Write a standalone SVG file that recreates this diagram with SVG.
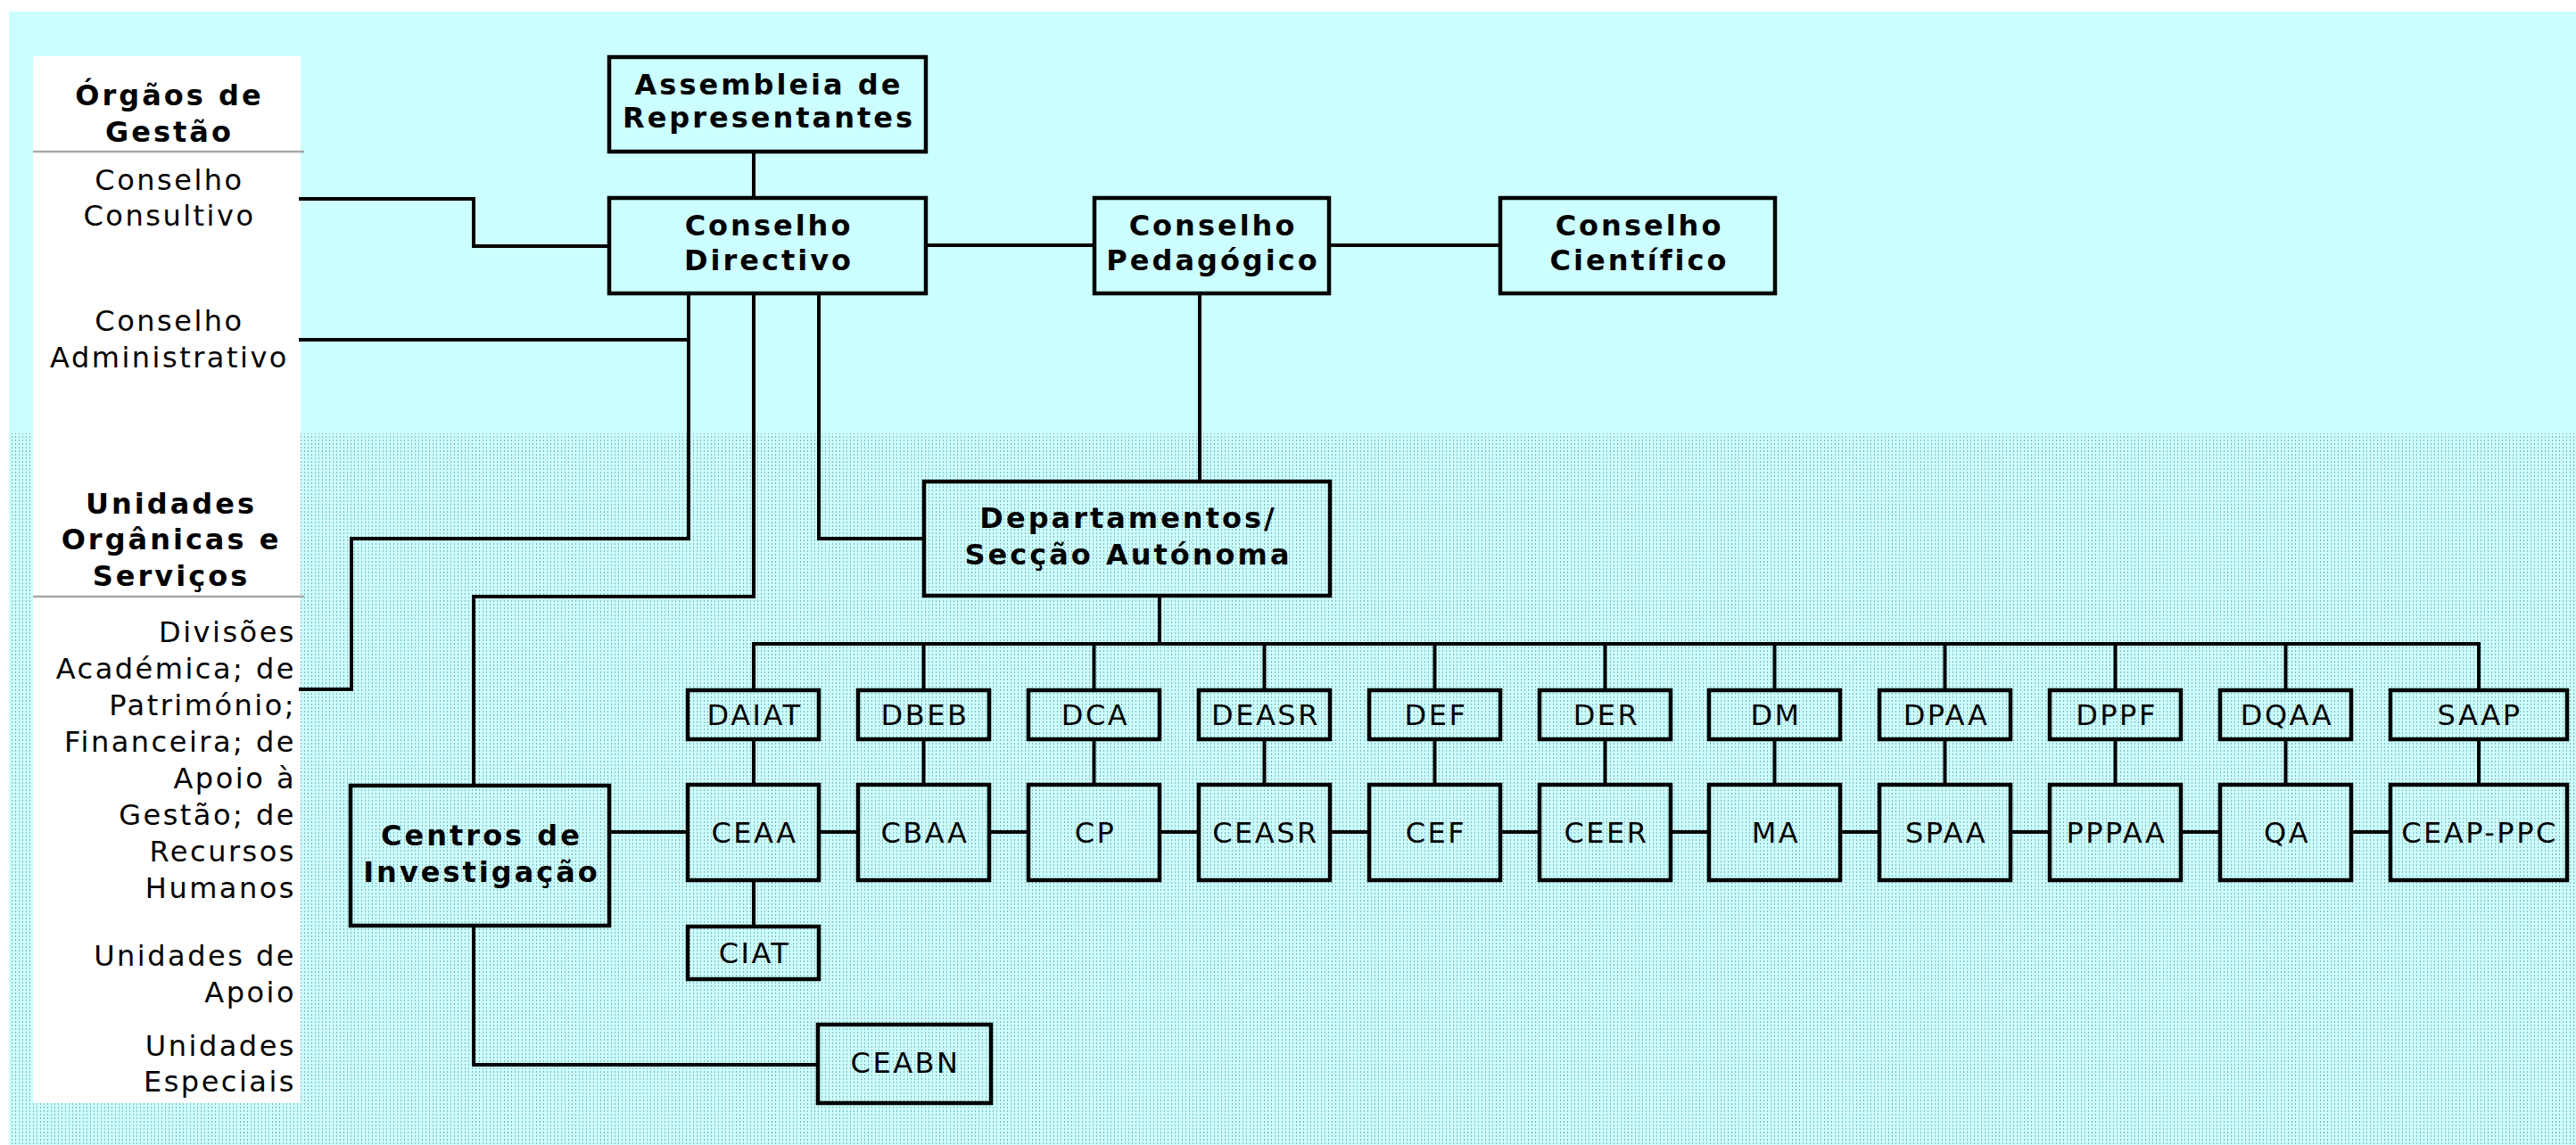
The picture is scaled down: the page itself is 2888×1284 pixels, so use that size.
<svg xmlns="http://www.w3.org/2000/svg" width="2888" height="1284" viewBox="0 0 2888 1284">
<defs>
<pattern id="dots" x="0" y="0" width="4" height="4" patternUnits="userSpaceOnUse">
<rect width="4" height="4" fill="#CCFFFF"/>
<rect x="1" y="1" width="1" height="2" fill="#7FB6B6"/>
</pattern>
<style>
.b{fill:none;stroke:#000;stroke-width:4.5}
.c{fill:none;stroke:#000;stroke-width:4;stroke-linejoin:miter;stroke-linecap:square}
.t{font-family:"DejaVu Sans",Verdana,sans-serif;font-size:32px;letter-spacing:2.5px;text-anchor:middle;fill:#000}
.tb{font-weight:bold;letter-spacing:3px}
.r{text-anchor:end}
.sep{stroke:#A8A8A8;stroke-width:2.5}
</style>
</defs>
<rect width="2888" height="1284" fill="#FFFFFF"/>
<rect x="10" y="13" width="2878" height="473" fill="#CCFFFF"/>
<rect x="10" y="486" width="2878" height="798" fill="url(#dots)"/>
<g id="legend">
<rect x="37" y="63" width="300" height="1174" fill="#FFFFFF"/>
<line class="sep" x1="37" y1="170" x2="341" y2="170"/>
<line class="sep" x1="37" y1="669" x2="341" y2="669"/>
<text class="t tb" x="190" y="118">Órgãos de</text>
<text class="t tb" x="190" y="159">Gestão</text>
<text class="t" x="190" y="213">Conselho</text>
<text class="t" x="190" y="253">Consultivo</text>
<text class="t" x="190" y="371">Conselho</text>
<text class="t" x="190" y="412">Administrativo</text>
<text class="t tb" x="192" y="576">Unidades</text>
<text class="t tb" x="192" y="616">Orgânicas e</text>
<text class="t tb" x="192" y="657">Serviços</text>
<text class="t r" x="332" y="720">Divisões</text>
<text class="t r" x="332" y="761">Académica; de</text>
<text class="t r" x="332" y="802">Património;</text>
<text class="t r" x="332" y="843">Financeira; de</text>
<text class="t r" x="332" y="884">Apoio à</text>
<text class="t r" x="332" y="925">Gestão; de</text>
<text class="t r" x="332" y="966">Recursos</text>
<text class="t r" x="332" y="1007">Humanos</text>
<text class="t r" x="332" y="1083">Unidades de</text>
<text class="t r" x="332" y="1124">Apoio</text>
<text class="t r" x="332" y="1184">Unidades</text>
<text class="t r" x="332" y="1224">Especiais</text>
</g>
<g id="connectors">
<path class="c" d="M845,170 V222"/>
<path class="c" d="M1038,275 H1227"/>
<path class="c" d="M1490,275 H1682"/>
<path class="c" d="M337,223 H531 V276 H683"/>
<path class="c" d="M337,381 H772"/>
<path class="c" d="M772,329 V604 H394 V773 H337"/>
<path class="c" d="M845,329 V669 H531 V881"/>
<path class="c" d="M918,329 V604 H1036"/>
<path class="c" d="M1345,329 V540"/>
<path class="c" d="M1300,668 V722"/>
<path class="c" d="M845,722 H2779"/>
<path class="c" d="M845,722 V774 M1035.5,722 V774 M1226.5,722 V774 M1417.5,722 V774 M1608.5,722 V774 M1799.5,722 V774 M1989.5,722 V774 M2180.5,722 V774 M2371.5,722 V774 M2562.5,722 V774 M2779,722 V774"/>
<path class="c" d="M845,829 V880 M1035.5,829 V880 M1226.5,829 V880 M1417.5,829 V880 M1608.5,829 V880 M1799.5,829 V880 M1989.5,829 V880 M2180.5,829 V880 M2371.5,829 V880 M2562.5,829 V880 M2779,829 V880"/>
<path class="c" d="M683,933 H771 M918,933 H962 M1109,933 H1153 M1300,933 H1344 M1491,933 H1535 M1682,933 H1726 M1873,933 H1916 M2063,933 H2107 M2254,933 H2298 M2445,933 H2489 M2636,933 H2680"/>
<path class="c" d="M845,987 V1039"/>
<path class="c" d="M531,1038 V1194 H917"/>
</g>
<g id="assembleia"><rect class="b" x="683" y="64" width="355" height="106"/><text class="t tb" x="862" y="106">Assembleia de</text><text class="t tb" x="862" y="143">Representantes</text></g>
<g id="conselho-directivo"><rect class="b" x="683" y="222" width="355" height="107"/><text class="t tb" x="862" y="264">Conselho</text><text class="t tb" x="862" y="303">Directivo</text></g>
<g id="conselho-pedagogico"><rect class="b" x="1227" y="222" width="263" height="107"/><text class="t tb" x="1360" y="264">Conselho</text><text class="t tb" x="1360" y="303">Pedagógico</text></g>
<g id="conselho-cientifico"><rect class="b" x="1682" y="222" width="308" height="107"/><text class="t tb" x="1838" y="264">Conselho</text><text class="t tb" x="1838" y="303">Científico</text></g>
<g id="departamentos"><rect class="b" x="1036" y="540" width="455" height="128"/><text class="t tb" x="1265" y="592">Departamentos/</text><text class="t tb" x="1265" y="633">Secção Autónoma</text></g>
<g id="centros"><rect class="b" x="393" y="881" width="290" height="157"/><text class="t tb" x="540" y="948">Centros de</text><text class="t tb" x="540" y="989">Investigação</text></g>
<g id="daiat"><rect class="b" x="771" y="774" width="147" height="55"/><text class="t" x="846" y="813">DAIAT</text></g>
<g id="dbeb"><rect class="b" x="962" y="774" width="147" height="55"/><text class="t" x="1037" y="813">DBEB</text></g>
<g id="dca"><rect class="b" x="1153" y="774" width="147" height="55"/><text class="t" x="1228" y="813">DCA</text></g>
<g id="deasr"><rect class="b" x="1344" y="774" width="147" height="55"/><text class="t" x="1419" y="813">DEASR</text></g>
<g id="def"><rect class="b" x="1535" y="774" width="147" height="55"/><text class="t" x="1610" y="813">DEF</text></g>
<g id="der"><rect class="b" x="1726" y="774" width="147" height="55"/><text class="t" x="1801" y="813">DER</text></g>
<g id="dm"><rect class="b" x="1916" y="774" width="147" height="55"/><text class="t" x="1991" y="813">DM</text></g>
<g id="dpaa"><rect class="b" x="2107" y="774" width="147" height="55"/><text class="t" x="2182" y="813">DPAA</text></g>
<g id="dppf"><rect class="b" x="2298" y="774" width="147" height="55"/><text class="t" x="2373" y="813">DPPF</text></g>
<g id="dqaa"><rect class="b" x="2489" y="774" width="147" height="55"/><text class="t" x="2564" y="813">DQAA</text></g>
<g id="saap"><rect class="b" x="2680" y="774" width="198" height="55"/><text class="t" x="2780" y="813">SAAP</text></g>
<g id="ceaa"><rect class="b" x="771" y="880" width="147" height="107"/><text class="t" x="846" y="945">CEAA</text></g>
<g id="cbaa"><rect class="b" x="962" y="880" width="147" height="107"/><text class="t" x="1037" y="945">CBAA</text></g>
<g id="cp"><rect class="b" x="1153" y="880" width="147" height="107"/><text class="t" x="1228" y="945">CP</text></g>
<g id="ceasr"><rect class="b" x="1344" y="880" width="147" height="107"/><text class="t" x="1419" y="945">CEASR</text></g>
<g id="cef"><rect class="b" x="1535" y="880" width="147" height="107"/><text class="t" x="1610" y="945">CEF</text></g>
<g id="ceer"><rect class="b" x="1726" y="880" width="147" height="107"/><text class="t" x="1801" y="945">CEER</text></g>
<g id="ma"><rect class="b" x="1916" y="880" width="147" height="107"/><text class="t" x="1991" y="945">MA</text></g>
<g id="spaa"><rect class="b" x="2107" y="880" width="147" height="107"/><text class="t" x="2182" y="945">SPAA</text></g>
<g id="pppaa"><rect class="b" x="2298" y="880" width="147" height="107"/><text class="t" x="2373" y="945">PPPAA</text></g>
<g id="qa"><rect class="b" x="2489" y="880" width="147" height="107"/><text class="t" x="2564" y="945">QA</text></g>
<g id="ceap-ppc"><rect class="b" x="2680" y="880" width="198" height="107"/><text class="t" x="2780" y="945">CEAP-PPC</text></g>
<g id="ciat"><rect class="b" x="771" y="1039" width="147" height="59"/><text class="t" x="846" y="1080">CIAT</text></g>
<g id="ceabn"><rect class="b" x="917" y="1149" width="194" height="88"/><text class="t" x="1015" y="1203">CEABN</text></g>
</svg>
